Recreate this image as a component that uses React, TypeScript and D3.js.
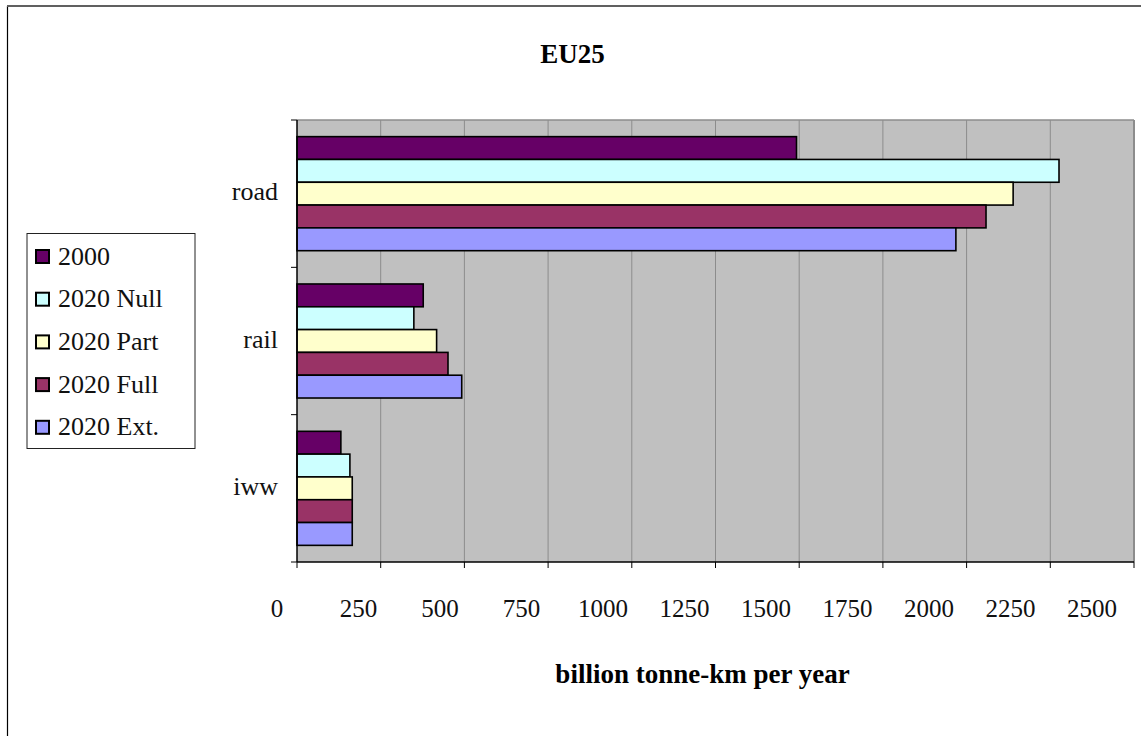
import React from "react";
import * as d3 from "d3";

const categories = ["road", "rail", "iww"];
const seriesNames = ["2000", "2020 Null", "2020 Part", "2020 Full", "2020 Ext."];
const seriesColors = ["#660066", "#CCFFFF", "#FFFFCC", "#993366", "#9999FF"];
const values2000 = [1492, 377, 131];
const values2020Null = [2276, 349, 158];
const values2020Part = [2139, 417, 165];
const values2020Full = [2058, 451, 165];
const values2020Ext = [1968, 492, 165];
const xTicks = [0, 250, 500, 750, 1000, 1250, 1500, 1750, 2000, 2250, 2500];
const titleText = "EU25";
const xAxisTitle = "billion tonne-km per year";

const seriesValues = [values2000, values2020Null, values2020Part, values2020Full, values2020Ext];

const W = 1141;
const H = 736;
const plot = { left: 297, right: 1134, top: 120, bottom: 562 };
const FONT = "Liberation Serif, DejaVu Serif, serif";
const txt = { fontFamily: FONT };

export default function App() {
  const x = d3.scaleLinear().domain([0, 2500]).range([plot.left, plot.right]);
  // tick labels are drawn slightly shifted in the reference
  const xLabel = d3.scaleLinear().domain([0, 2500]).range([277, 1092]);
  const y = d3
    .scaleBand<string>()
    .domain(categories)
    .range([plot.top, plot.bottom])
    .paddingInner(0.226)
    .paddingOuter(0.113);
  const yInner = d3
    .scaleBand<string>()
    .domain(seriesNames)
    .range([0, y.bandwidth()])
    .padding(0);
  const step = (plot.bottom - plot.top) / categories.length;
  const catEdges = d3.range(categories.length + 1).map((i) => plot.top + i * step);

  return (
    <svg
      width={W}
      height={H}
      style={{ position: "absolute", left: 0, top: 0, display: "block", background: "#fff", fontFamily: FONT }}
    >
      {/* outer chart border */}
      <line x1={7.5} y1={6} x2={7.5} y2={H + 10} stroke="#000" strokeWidth={1.2} />
      <line x1={7} y1={6} x2={W + 10} y2={6} stroke="#606060" strokeWidth={2} />

      <text x={572.5} y={62.5} textAnchor="middle" fontWeight="bold" fontSize={27} style={txt}>
        {titleText}
      </text>

      {/* plot area */}
      <rect x={plot.left} y={plot.top} width={plot.right - plot.left} height={plot.bottom - plot.top} fill="#C0C0C0" />
      {xTicks.slice(1, -1).map((t) => (
        <line key={t} x1={x(t)} x2={x(t)} y1={plot.top} y2={plot.bottom} stroke="#8c8c8c" strokeWidth={1} />
      ))}
      <line x1={plot.left} x2={plot.right} y1={plot.top} y2={plot.top} stroke="#8c8c8c" strokeWidth={1.5} />
      <line x1={plot.right} x2={plot.right} y1={plot.top} y2={plot.bottom} stroke="#8c8c8c" strokeWidth={2} />

      {/* bars */}
      {categories.map((c, ci) => (
        <g key={c} transform={`translate(0,${y(c)})`}>
          {seriesNames.map((s, si) => (
            <rect
              key={s}
              x={x(0)}
              y={yInner(s)}
              width={x(seriesValues[si][ci]) - x(0)}
              height={yInner.bandwidth()}
              fill={seriesColors[si]}
              stroke="#000"
              strokeWidth={1.6}
            />
          ))}
        </g>
      ))}

      {/* axes */}
      <line x1={plot.left} x2={plot.left} y1={plot.top} y2={plot.bottom} stroke="#000" strokeWidth={1.5} />
      <line x1={plot.left} x2={plot.right} y1={plot.bottom} y2={plot.bottom} stroke="#000" strokeWidth={1.5} />
      {catEdges.map((e, i) => (
        <line key={i} x1={plot.left - 6} x2={plot.left} y1={e} y2={e} stroke="#000" strokeWidth={1} />
      ))}
      {xTicks.map((t) => (
        <line key={t} x1={x(t)} x2={x(t)} y1={plot.bottom} y2={plot.bottom + 6} stroke="#000" strokeWidth={1} />
      ))}
      {xTicks.map((t) => (
        <text key={t} x={xLabel(t)} y={617} textAnchor="middle" fontSize={25} fill="#111" style={txt}>
          {t}
        </text>
      ))}
      {categories.map((c) => (
        <text key={c} x={278} y={(y(c) as number) + y.bandwidth() / 2 + 6.5} textAnchor="end" fontSize={26} fill="#111" style={txt}>
          {c}
        </text>
      ))}

      <text x={702.5} y={683} textAnchor="middle" fontWeight="bold" fontSize={27} style={txt}>
        {xAxisTitle}
      </text>

      {/* legend */}
      <rect x={27} y={233.5} width={168} height={215} fill="#fff" stroke="#222" strokeWidth={1} />
      {seriesNames.map((s, i) => {
        const cy = 256.5 + i * 42.7;
        return (
          <g key={s}>
            <rect x={36} y={cy - 6.5} width={13} height={13} fill={seriesColors[i]} stroke="#000" strokeWidth={2} />
            <text x={58} y={cy + 8} fontSize={26} fill="#111" style={txt}>
              {s}
            </text>
          </g>
        );
      })}
    </svg>
  );
}
